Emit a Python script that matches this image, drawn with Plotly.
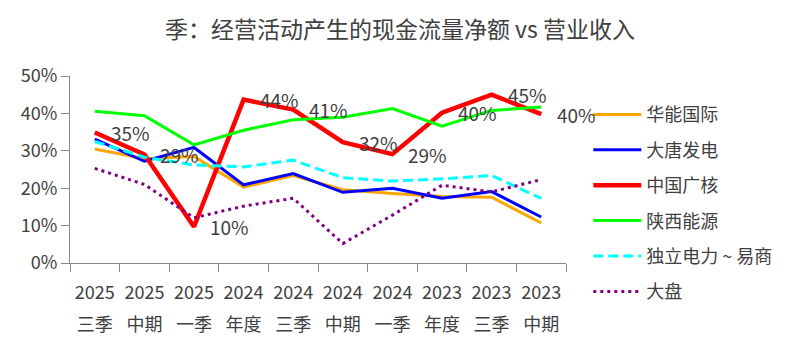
import plotly.graph_objects as go

years = ["2025", "2025", "2025", "2024", "2024", "2024", "2024", "2023", "2023", "2023"]
periods = ["三季", "中期", "一季", "年度", "三季", "中期", "一季", "年度", "三季", "中期"]
categories = [y + p for y, p in zip(years, periods)]

huaneng = [0.305, 0.279, 0.285, 0.203, 0.234, 0.196, 0.186, 0.178, 0.176, 0.107]
datang = [0.331, 0.272, 0.309, 0.209, 0.239, 0.189, 0.200, 0.173, 0.191, 0.123]
cgn = [0.349, 0.290, 0.097, 0.437, 0.410, 0.323, 0.291, 0.402, 0.450, 0.398]
shaanxi = [0.406, 0.394, 0.316, 0.355, 0.383, 0.390, 0.413, 0.366, 0.408, 0.417]
duli = [0.325, 0.283, 0.262, 0.257, 0.275, 0.228, 0.219, 0.225, 0.234, 0.173]
dapan = [0.253, 0.210, 0.121, 0.152, 0.173, 0.052, 0.128, 0.208, 0.190, 0.223]

series = [
    ("华能国际", huaneng, "#FFA500", 3, "solid"),
    ("大唐发电", datang, "#0000FF", 3, "solid"),
    ("中国广核", cgn, "#FF0000", 4.5, "solid"),
    ("陕西能源", shaanxi, "#00FF00", 3, "solid"),
    ("独立电力 ~ 易商", duli, "#00FFFF", 3, "10px,5px"),
    ("大盘", dapan, "#800080", 3, "3px,4px"),
]

FONT = "Noto Sans CJK SC, Noto Sans, sans-serif"
TXT = "#404040"
XRANGE = [-0.5, len(categories) - 0.5]

fig = go.Figure()
for i, (name, vals, color, w, dash) in enumerate(series):
    fig.add_trace(go.Scatter(
        x=categories, y=vals, name=name, mode="lines",
        line=dict(color=color, width=w, dash=dash),
        legendgroup="g%d" % i,
        hoverinfo="skip",
    ))

# invisible trace on second x axis (period row)
fig.add_trace(go.Scatter(x=categories, y=cgn, xaxis="x2", mode="lines",
                         line=dict(width=0), showlegend=False, hoverinfo="skip",
                         opacity=0))

for c, v in zip(categories, cgn):
    fig.add_annotation(x=c, y=v, text="{:.0%}".format(v), showarrow=False,
                       xanchor="left", yanchor="middle", xshift=14,
                       font=dict(size=19, color=TXT, family=FONT))

fig.update_layout(
    width=800, height=353,
    margin=dict(l=70, r=234, t=76, b=90),
    paper_bgcolor="white", plot_bgcolor="white",
    font=dict(family=FONT, size=18, color=TXT),
    title=dict(text="季：经营活动产生的现金流量净额 vs 营业收入",
               x=0.5, xref="container", xanchor="center",
               y=1 - 30 / 353, yref="container", yanchor="middle",
               font=dict(size=23, color=TXT, family=FONT)),
    showlegend=True,
    legend=dict(x=1.045, xanchor="left", y=0.892, yanchor="top",
                traceorder="grouped", tracegroupgap=9, maxheight=320,
                font=dict(size=18, color=TXT, family=FONT),
                itemwidth=48, bgcolor="rgba(0,0,0,0)"),
    xaxis=dict(type="category", categoryorder="array", categoryarray=categories,
               range=XRANGE, tickangle=0,
               tickmode="array", tickvals=categories, ticktext=years,
               tickson="boundaries", ticks="outside", ticklen=8,
               tickcolor="#888888", showline=True, linecolor="#888888",
               linewidth=1.3, showgrid=False, zeroline=False,
               ticklabelstandoff=13,
               tickfont=dict(size=18, color=TXT, family=FONT)),
    xaxis2=dict(type="category", categoryorder="array", categoryarray=categories,
                range=XRANGE, tickangle=0,
                overlaying="x", anchor="y", side="bottom",
                tickmode="array", tickvals=categories, ticktext=periods,
                ticks="", showline=False, showgrid=False, zeroline=False,
                ticklabelstandoff=49,
                tickfont=dict(size=18, color=TXT, family=FONT)),
    yaxis=dict(range=[0, 0.5], dtick=0.1, tickformat=".0%", ticks="outside",
               ticklen=8, tickcolor="#888888", showline=True,
               linecolor="#888888", linewidth=1.3, showgrid=False,
               zeroline=False, tickfont=dict(size=18, color=TXT, family=FONT)),
)

fig.write_html("out.html")
